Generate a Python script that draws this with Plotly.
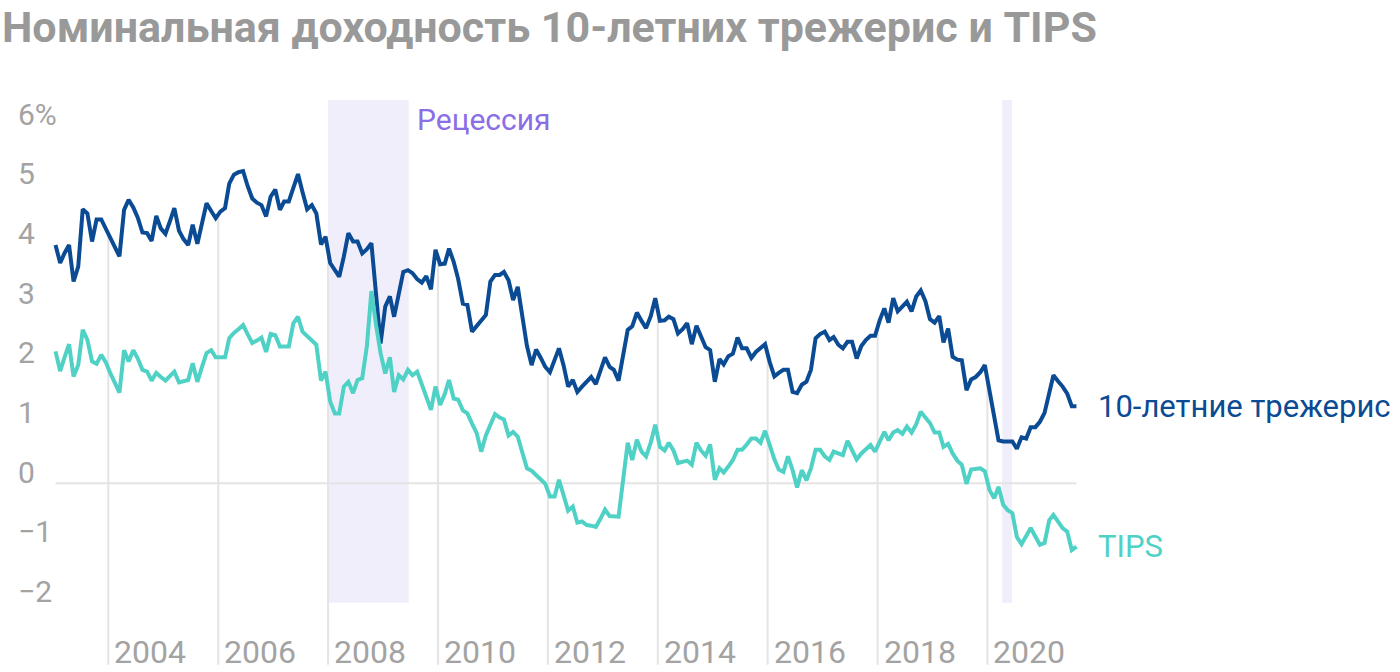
import plotly.graph_objects as go
import pandas as pd

# ---------------- data (monthly, Jan 2003 – Aug 2021) ----------------
start_month = "2003-01-01"

treasury10 = [
    3.99, 3.69, 3.85, 3.99, 3.38, 3.63, 4.59, 4.52, 4.05, 4.42, 4.42, 4.27,   # 2003
    4.12, 3.97, 3.80, 4.58, 4.75, 4.62, 4.45, 4.20, 4.19, 4.06, 4.48, 4.27,   # 2004
    4.18, 4.40, 4.61, 4.23, 4.09, 3.99, 4.33, 4.01, 4.35, 4.69, 4.56, 4.44,   # 2005
    4.55, 4.61, 5.02, 5.17, 5.21, 5.23, 4.98, 4.77, 4.70, 4.66, 4.47, 4.80,   # 2006
    4.92, 4.58, 4.72, 4.72, 4.95, 5.18, 4.88, 4.59, 4.66, 4.52, 4.00, 4.13,   # 2007
    3.69, 3.56, 3.46, 3.80, 4.19, 4.05, 4.05, 3.85, 3.92, 4.02, 3.10, 2.34,   # 2008
    2.96, 3.13, 2.79, 3.15, 3.54, 3.57, 3.52, 3.42, 3.36, 3.47, 3.25, 3.91,   # 2009
    3.67, 3.68, 3.93, 3.71, 3.42, 3.01, 2.99, 2.54, 2.63, 2.72, 2.82, 3.38,   # 2010
    3.49, 3.49, 3.54, 3.40, 3.07, 3.29, 2.85, 2.30, 1.98, 2.24, 2.10, 1.95,   # 2011
    1.86, 2.05, 2.26, 1.97, 1.62, 1.73, 1.53, 1.62, 1.70, 1.78, 1.66, 1.87,   # 2012
    2.11, 1.95, 1.90, 1.72, 2.18, 2.57, 2.63, 2.86, 2.72, 2.60, 2.80, 3.10,   # 2013
    2.72, 2.73, 2.79, 2.75, 2.51, 2.58, 2.68, 2.33, 2.64, 2.45, 2.28, 2.23,   # 2014
    1.70, 2.08, 1.99, 2.13, 2.17, 2.44, 2.26, 2.26, 2.10, 2.20, 2.26, 2.33,   # 2015
    2.03, 1.79, 1.85, 1.90, 1.90, 1.53, 1.51, 1.65, 1.70, 1.90, 2.43, 2.50,   # 2016
    2.54, 2.40, 2.45, 2.32, 2.26, 2.37, 2.37, 2.09, 2.30, 2.40, 2.47, 2.47,   # 2017
    2.73, 2.93, 2.69, 3.10, 2.88, 2.95, 3.04, 2.88, 3.13, 3.23, 3.05, 2.75,   # 2018
    2.69, 2.80, 2.36, 2.59, 2.12, 2.07, 2.06, 1.56, 1.74, 1.78, 1.86, 1.98,   # 2019
    1.55, 1.15, 0.72, 0.70, 0.70, 0.70, 0.58, 0.77, 0.75, 0.94, 0.94, 1.03,   # 2020
    1.18, 1.50, 1.81, 1.71, 1.62, 1.50, 1.29, 1.29,                           # 2021
]

tips10 = [
    2.21, 1.88, 2.10, 2.33, 1.79, 1.98, 2.57, 2.40, 2.04, 2.00, 2.15, 2.03,   # 2003
    1.84, 1.68, 1.52, 2.23, 2.04, 2.23, 2.09, 1.90, 1.87, 1.72, 1.85, 1.78,   # 2004
    1.72, 1.80, 1.87, 1.69, 1.71, 1.73, 2.01, 1.70, 1.95, 2.18, 2.23, 2.11,   # 2005
    2.11, 2.11, 2.43, 2.52, 2.58, 2.65, 2.50, 2.35, 2.39, 2.44, 2.20, 2.50,   # 2006
    2.48, 2.29, 2.29, 2.29, 2.68, 2.79, 2.54, 2.46, 2.38, 2.32, 1.72, 1.87,   # 2007
    1.37, 1.17, 1.17, 1.62, 1.70, 1.51, 1.73, 1.76, 2.30, 3.22, 2.65, 2.18,   # 2008
    1.84, 2.11, 1.53, 1.81, 1.74, 1.90, 1.81, 1.87, 1.66, 1.45, 1.23, 1.62,   # 2009
    1.31, 1.50, 1.73, 1.42, 1.40, 1.22, 1.17, 1.00, 0.84, 0.53, 0.80, 0.98,   # 2010
    1.16, 1.10, 1.07, 0.80, 0.86, 0.78, 0.50, 0.25, 0.21, 0.14, 0.08, -0.01,  # 2011
    -0.22, -0.22, 0.06, -0.20, -0.46, -0.39, -0.66, -0.64, -0.70, -0.71, -0.73, -0.60,  # 2012
    -0.44, -0.55, -0.56, -0.56, 0.05, 0.68, 0.39, 0.73, 0.53, 0.45, 0.68, 0.98,  # 2013
    0.61, 0.55, 0.68, 0.55, 0.34, 0.36, 0.38, 0.31, 0.68, 0.55, 0.46, 0.65,   # 2014
    0.06, 0.25, 0.18, 0.28, 0.39, 0.56, 0.56, 0.65, 0.75, 0.75, 0.68, 0.88,   # 2015
    0.61, 0.40, 0.23, 0.19, 0.45, 0.22, -0.07, 0.22, 0.05, 0.25, 0.56, 0.56,  # 2016
    0.45, 0.39, 0.53, 0.50, 0.47, 0.71, 0.56, 0.40, 0.50, 0.56, 0.64, 0.53,   # 2017
    0.68, 0.86, 0.72, 0.85, 0.89, 0.83, 0.95, 0.85, 0.99, 1.20, 1.10, 1.01,   # 2018
    0.85, 0.85, 0.61, 0.66, 0.50, 0.38, 0.31, -0.01, 0.23, 0.24, 0.25, 0.20,  # 2019
    -0.11, -0.25, -0.06, -0.36, -0.45, -0.50, -0.90, -1.02, -0.88, -0.75, -0.89, -1.03,  # 2020
    -1.00, -0.62, -0.53, -0.65, -0.75, -0.81, -1.12, -1.06,                   # 2021
]

recession_starts = ["2008-01-01", "2020-04-08"]
recession_ends = ["2009-06-20", "2020-06-12"]

year_ticks = [2004, 2006, 2008, 2010, 2012, 2014, 2016, 2018, 2020]
y_ticks = [6, 5, 4, 3, 2, 1, 0, -1, -2]
y_tick_labels = ["6%", "5", "4", "3", "2", "1", "0", "\u22121", "\u22122"]

title_text = "Номинальная доходность 10-летних трежерис и TIPS"
name_t10 = "10-летние трежерис"
name_tips = "TIPS"
recession_label = "Рецессия"

# ---------------- styles ----------------
C_T10 = "#0a4b94"
C_TIPS = "#4fd1c5"
C_GRID = "#e4e4e4"
C_REC = "#f0eefb"
C_REC_TXT = "#8a6ee6"
C_LABEL = "#a3a3a3"
C_TITLE = "#999999"
FONT = "Roboto"

Y_MIN, Y_MAX = -3.161, 8.095
X_MIN, X_MAX = "2002-01-11", "2027-07-06"
GRID_BOTTOM = -3.04
REC_TOP = 6.42

dates = pd.date_range(start_month, periods=len(treasury10), freq="MS") + pd.Timedelta(days=14)

fig = go.Figure()
fig.add_trace(go.Scatter(x=dates, y=treasury10, mode="lines", name=name_t10,
                         line=dict(color=C_T10, width=4), showlegend=False,
                         hoverinfo="skip"))
fig.add_trace(go.Scatter(x=dates, y=tips10, mode="lines", name=name_tips,
                         line=dict(color=C_TIPS, width=4), showlegend=False,
                         hoverinfo="skip"))

shapes = []
for s, e in zip(recession_starts, recession_ends):
    shapes.append(dict(type="rect", xref="x", yref="y", x0=s, x1=e, y0=-2, y1=REC_TOP,
                       fillcolor=C_REC, line=dict(width=0), layer="below"))

# vertical drop lines at even years, from bottom up to the treasury line
for yr in year_ticks:
    i_jan = (yr - 2003) * 12
    top = (treasury10[i_jan - 1] + treasury10[i_jan]) / 2
    shapes.append(dict(type="line", xref="x", yref="y", x0=f"{yr}-01-01", x1=f"{yr}-01-01",
                       y0=GRID_BOTTOM, y1=top, line=dict(color=C_GRID, width=2), layer="below"))

# zero line across the data span
shapes.append(dict(type="line", xref="x", yref="y", x0=dates[0], x1=dates[-1], y0=0, y1=0,
                   line=dict(color=C_GRID, width=2), layer="below"))

annotations = []
for v, lab in zip(y_ticks, y_tick_labels):
    annotations.append(dict(xref="paper", yref="y", x=16 / 1400, y=v, text=lab,
                            xanchor="left", yanchor="middle", yshift=11, showarrow=False,
                            font=dict(family=FONT, size=30, color=C_LABEL)))
for yr in year_ticks:
    annotations.append(dict(xref="x", yref="paper", x=f"{yr}-01-01", y=20 / 672, text=str(yr),
                            xanchor="left", yanchor="middle", xshift=4, showarrow=False,
                            font=dict(family=FONT, size=32, color=C_LABEL)))

annotations.append(dict(xref="x", yref="y", x=recession_ends[0], y=REC_TOP, text=recession_label,
                        xanchor="left", yanchor="top", xshift=6, yshift=0, showarrow=False,
                        font=dict(family=FONT, size=30, color=C_REC_TXT)))
annotations.append(dict(xref="x", yref="y", x=dates[-1], y=treasury10[-1], text=name_t10,
                        xanchor="left", yanchor="middle", xshift=20, showarrow=False,
                        font=dict(family=FONT, size=31, color=C_T10)))
annotations.append(dict(xref="x", yref="y", x=dates[-1], y=tips10[-1], text=name_tips,
                        xanchor="left", yanchor="middle", xshift=20, showarrow=False,
                        font=dict(family=FONT, size=31, color=C_TIPS)))
annotations.append(dict(xref="paper", yref="paper", x=0, y=1, text=title_text,
                        xanchor="left", yanchor="top", yshift=0, showarrow=False,
                        font=dict(family=FONT, size=43, color=C_TITLE, weight=700)))

fig.update_layout(
    width=1400, height=672,
    margin=dict(l=0, r=0, t=0, b=0),
    paper_bgcolor="white", plot_bgcolor="white",
    xaxis=dict(type="date", range=[X_MIN, X_MAX], showgrid=False, zeroline=False,
               showticklabels=False, showline=False, ticks=""),
    yaxis=dict(range=[Y_MIN, Y_MAX], showgrid=False, zeroline=False,
               showticklabels=False, showline=False, ticks=""),
    shapes=shapes, annotations=annotations,
    showlegend=False,
)

fig.write_html("out.html")
